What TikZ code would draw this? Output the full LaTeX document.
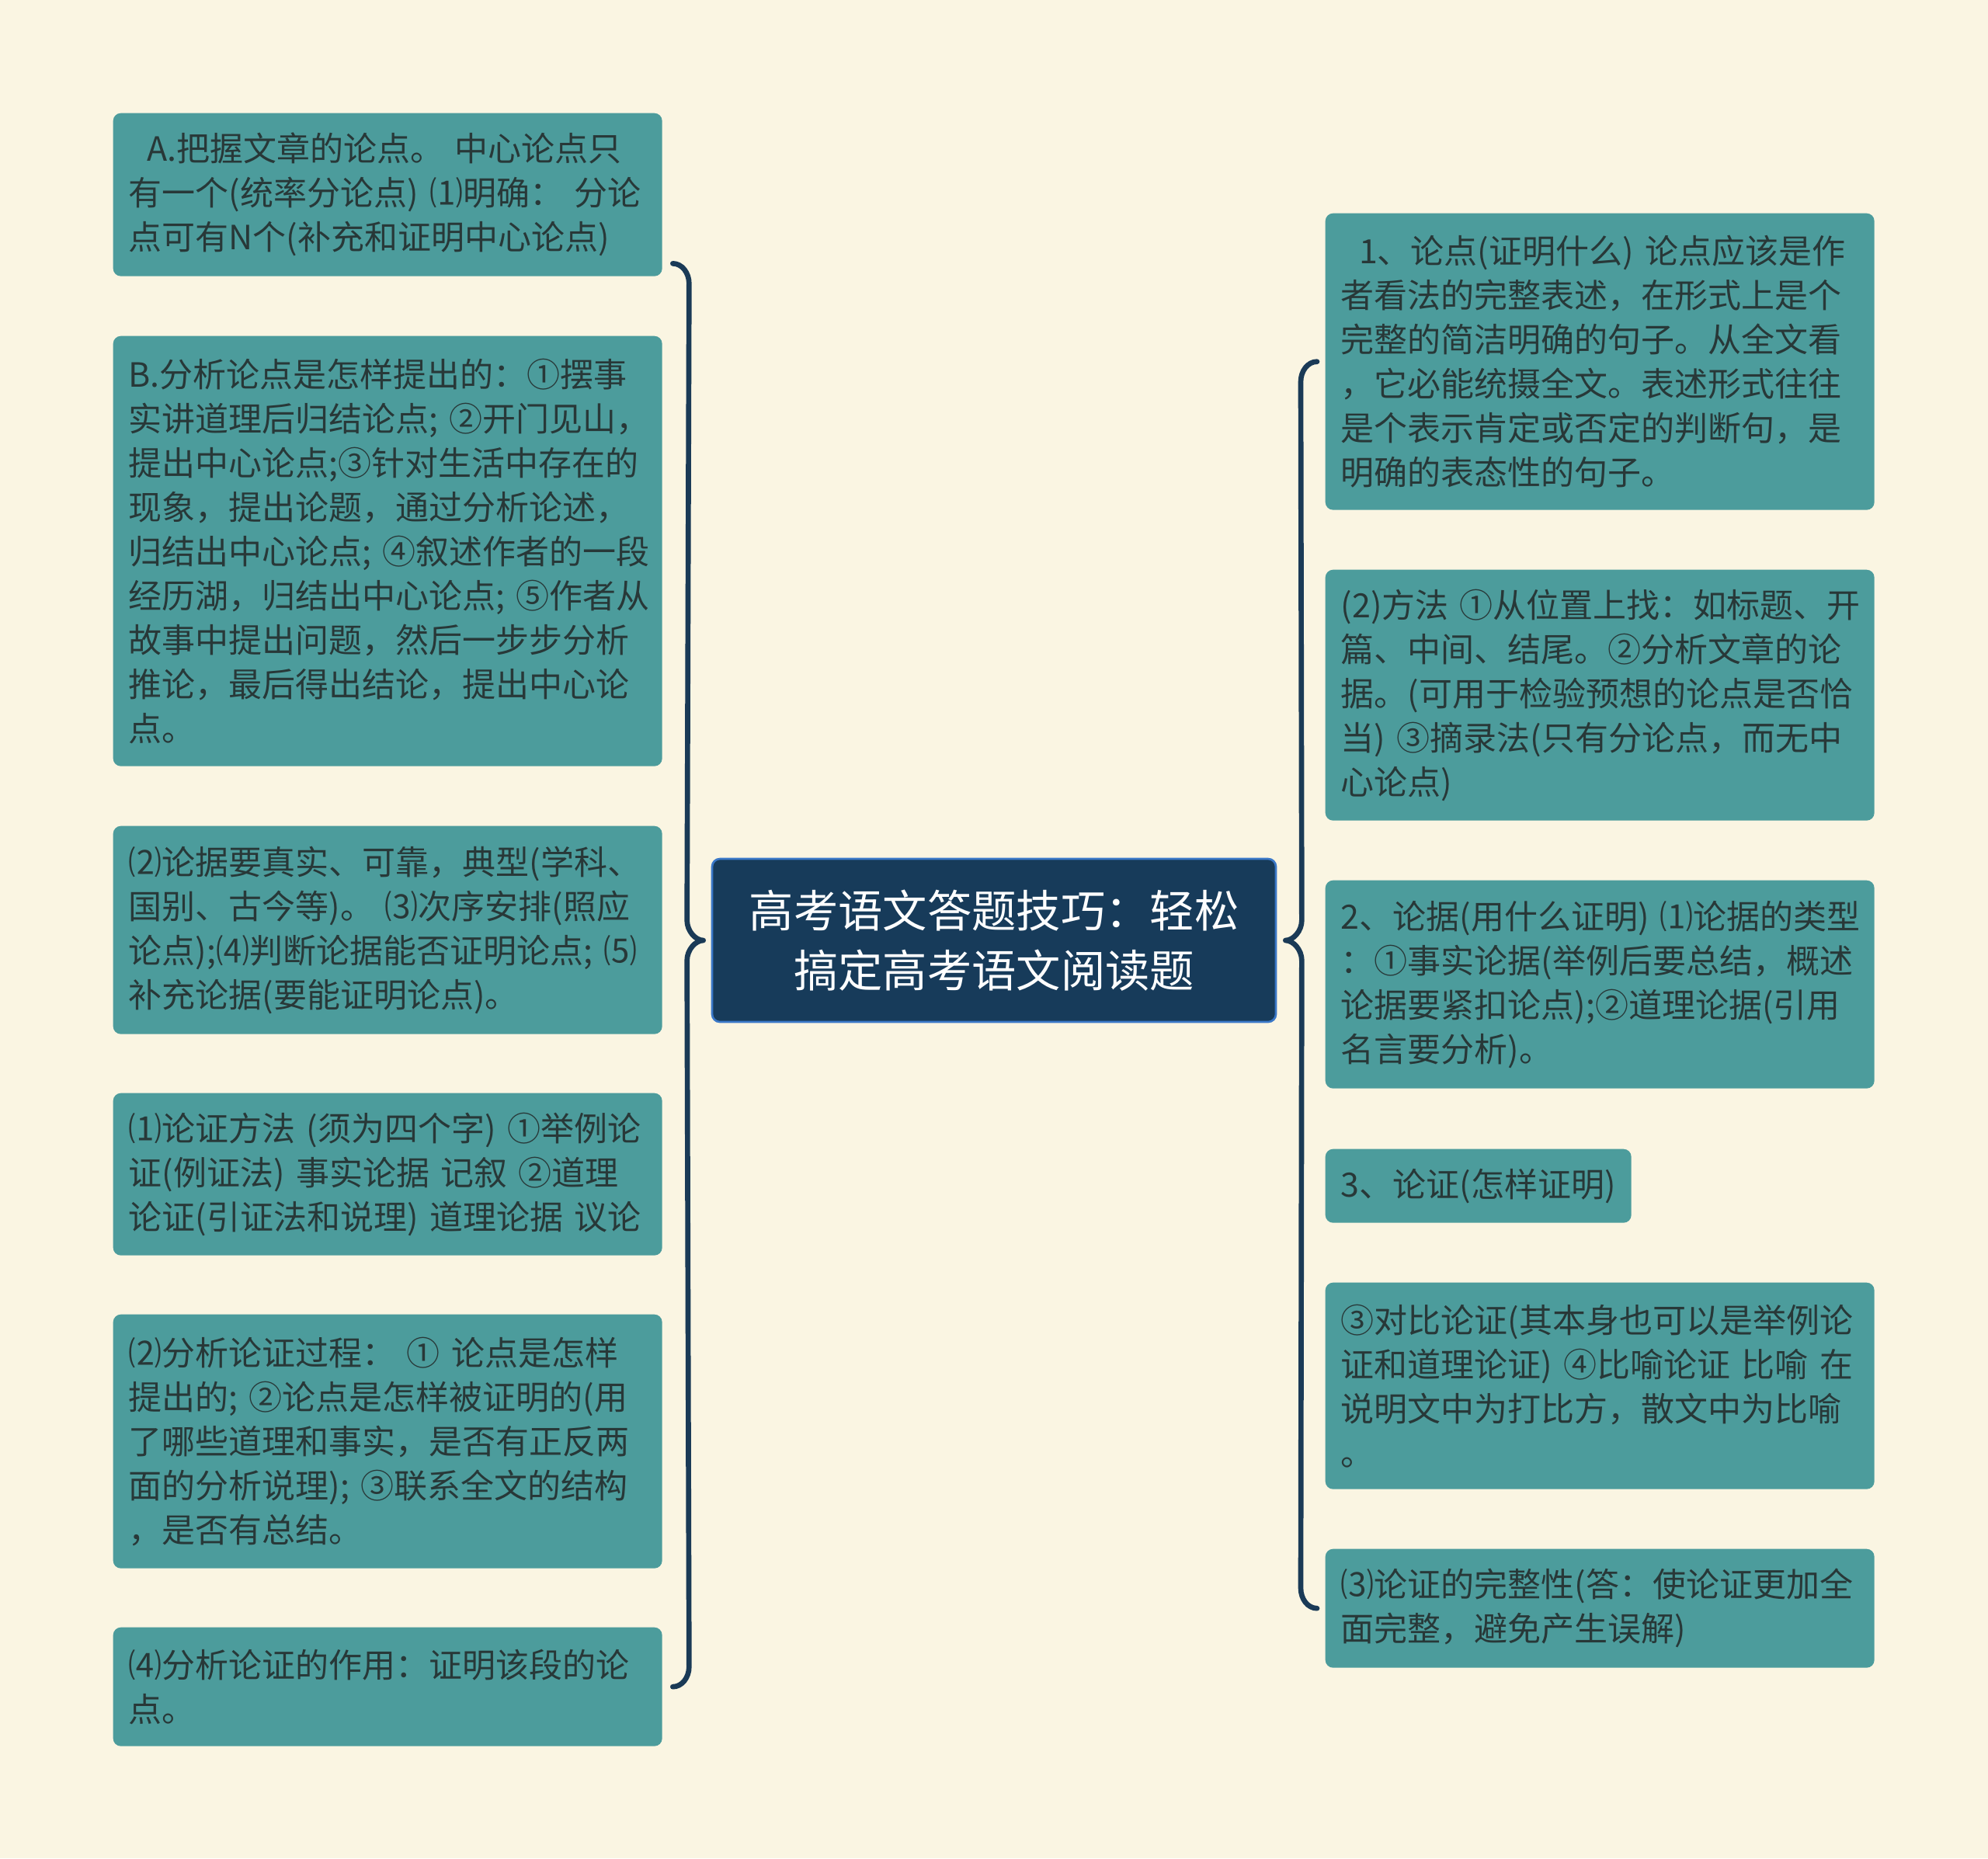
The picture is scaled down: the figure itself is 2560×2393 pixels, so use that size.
\documentclass[tikz,border=0pt]{standalone}
\usepackage{fontspec}
\setmainfont{Noto Sans CJK SC}
\usetikzlibrary{calc}
\definecolor{bgcol}{HTML}{FAF5E2}
\definecolor{boxteal}{HTML}{4C9C9C}
\definecolor{boxtxt}{HTML}{283838}
\definecolor{rootfill}{HTML}{173B5A}
\definecolor{rootedge}{HTML}{3A78C8}
\definecolor{bracecol}{HTML}{1A3A56}
\tikzset{
  leaf/.style={fill=boxteal, rounded corners=3pt, anchor=north west,
    minimum width=212.1pt, text width=200.1pt, inner xsep=6pt, inner ysep=0pt,
    align=left, font=\fontsize{12.9pt}{17.1pt}\selectfont, text=boxtxt},
  rootbox/.style={fill=rootfill, draw=rootedge, line width=0.8pt, rounded corners=3pt,
    minimum width=217.8pt, minimum height=63pt, align=center, text=white,
    font=\fontsize{17.2pt}{23.1pt}\selectfont},
  brace/.style={draw=bracecol, line width=2pt, line cap=round, line join=round}
}
\begin{document}
\begin{tikzpicture}[x=0.3pt,y=-0.3pt]
\fill[bgcol] (0,0) rectangle (2560,2393);
\useasboundingbox (0,0) rectangle (2560,2393);

% root
\node[rootbox] (root) at (1280,1211) {高考语文答题技巧：轻松\\搞定高考语文阅读题};

% left children
\node[leaf, minimum height=63pt] (A) at (145,145) {\hspace*{7pt}A.把握文章的论点。~中心论点只\\有一个(统率分论点)~⑴明确：~分论\\点可有N个(补充和证明中心论点)};
\node[leaf, minimum height=166.2pt] (B) at (145,432) {B.分析论点是怎样提出的：①摆事\\实讲道理后归结论点;~②开门见山，\\提出中心论点;③针对生活中存在的\\现象，提出论题，通过分析论述，\\归结出中心论点;~④叙述作者的一段\\经历湖，归结出中心论点;~⑤作者从\\故事中提出问题，然后一步步分析\\推论，最后得出结论，提出中心论\\点。};
\node[leaf, minimum height=80.4pt] (C) at (145,1063) {⑵论据要真实、可靠，典型(学科、\\国别、古今等)。~⑶次序安排(照应\\论点);⑷判断论据能否证明论点;~⑸\\补充论据(要能证明论点)。};
\node[leaf, minimum height=62.7pt] (D) at (145,1407) {⑴论证方法~(须为四个字)~①举例论\\证(例证法)~事实论据~记叙~②道理\\论证(引证法和说理)~道理论据~议论};
\node[leaf, minimum height=98.1pt] (E) at (145,1692) {⑵分析论证过程：~①~论点是怎样\\提出的;~②论点是怎样被证明的(用\\了哪些道理和事实，是否有正反两\\面的分析说理);~③联系全文的结构\\，是否有总结。};
\node[leaf, minimum height=45.9pt] (F) at (145,2095) {⑷分析论证的作用：证明该段的论\\点。};

% right children
\node[leaf, minimum height=114.6pt] (R1) at (1706,274) {\hspace*{7pt}1、论点(证明什么)~论点应该是作\\者看法的完整表述，在形式上是个\\完整的简洁明确的句子。从全文看\\，它必能统摄全文。表述形式往往\\是个表示肯定或否定的判断句，是\\明确的表态性的句子。};
\node[leaf, minimum height=96.9pt] (R2) at (1706,733) {(2)方法~①从位置上找：如标题、开\\篇、中间、结尾。②分析文章的论\\据。(可用于检验预想的论点是否恰\\当)~③摘录法(只有分论点，而无中\\心论点)};
\node[leaf, minimum height=80.4pt] (R3) at (1706,1133) {2、论据(用什么证明)~⑴论据的类型\\：①事实论据(举例后要总结，概述\\论据要紧扣论点);②道理论据(引用\\名言要分析)。};
\node[leaf, minimum height=28.5pt, minimum width=118.2pt, text width=106.2pt] (R4) at (1706,1479) {3、论证(怎样证明)};
\node[leaf, minimum height=79.8pt] (R5) at (1706,1651) {③对比论证(其本身也可以是举例论\\证和道理论证)~④比喻论证~比喻~在\\说明文中为打比方，散文中为比喻\\。};
\node[leaf, minimum height=45.9pt] (R6) at (1706,1994) {⑶论证的完整性(答：使论证更加全\\面完整，避免产生误解)};

% left brace
\coordinate (lt) at ([xshift=3.9pt,yshift=5.1pt]A.south east);
\coordinate (lb) at ([xshift=3.9pt]F.east);
\coordinate (ltip) at ([xshift=-3pt]root.west);
\draw[brace] (lt) .. controls ($(lt)+(12,0)$) and ($(lt)+(21,12)$) .. ($(lt)+(21,26)$)
  -- ($(ltip)+(-21,-26)$) .. controls ($(ltip)+(-21,-12)$) and ($(ltip)+(-10,0)$) .. (ltip)
  .. controls ($(ltip)+(-10,0)$) and ($(ltip)+(-21,12)$) .. ($(ltip)+(-21,26)$)
  -- ($(lb)+(21,-26)$) .. controls ($(lb)+(21,-12)$) and ($(lb)+(12,0)$) .. (lb);

% right brace
\coordinate (rt) at ([xshift=-3pt]R1.west);
\coordinate (rb) at ([xshift=-3pt]R6.west);
\coordinate (rtip) at ([xshift=3.3pt]root.east);
\draw[brace] (rt) .. controls ($(rt)+(-12,0)$) and ($(rt)+(-21,12)$) .. ($(rt)+(-21,26)$)
  -- ($(rtip)+(21,-26)$) .. controls ($(rtip)+(21,-12)$) and ($(rtip)+(10,0)$) .. (rtip)
  .. controls ($(rtip)+(10,0)$) and ($(rtip)+(21,12)$) .. ($(rtip)+(21,26)$)
  -- ($(rb)+(-21,-26)$) .. controls ($(rb)+(-21,-12)$) and ($(rb)+(-12,0)$) .. (rb);
\end{tikzpicture}
\end{document}
